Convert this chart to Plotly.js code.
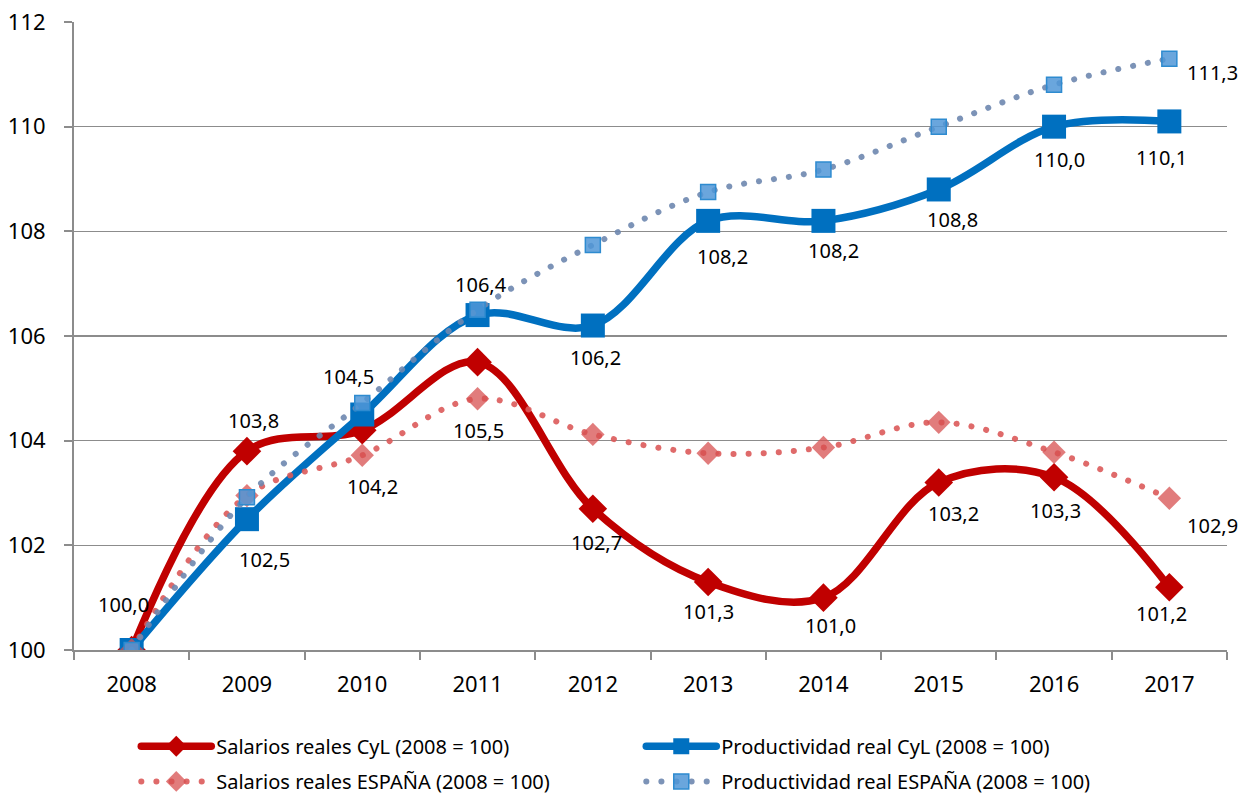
<!DOCTYPE html>
<html>
<head>
<meta charset="utf-8">
<script src="https://cdn.plot.ly/plotly-3.0.1.min.js"></script>
<style>
html,body{margin:0;padding:0;background:#fff;}
#chart{width:1251px;height:799px;}
.js-line{stroke-linecap:round;}
</style>
</head>
<body>
<div id="chart"></div>
<script>
// ---- data ----
const years = ['2008','2009','2010','2011','2012','2013','2014','2015','2016','2017'];
const salariosCyL = [100.0, 103.8, 104.2, 105.5, 102.7, 101.3, 101.0, 103.2, 103.3, 101.2];
const productividadCyL = [100.0, 102.5, 104.5, 106.4, 106.2, 108.2, 108.2, 108.8, 110.0, 110.1];
const salariosES = [100.0, 102.95, 103.72, 104.8, 104.12, 103.76, 103.87, 104.35, 103.78, 102.9];
const productividadES = [100.0, 102.92, 104.72, 106.5, 107.74, 108.75, 109.18, 110.0, 110.8, 111.3];
const seriesNames = [
  'Salarios reales CyL (2008 = 100)',
  'Productividad real CyL (2008 = 100)',
  'Salarios reales ESPAÑA (2008 = 100)',
  'Productividad real ESPAÑA (2008 = 100)'
];
const yTicks = [100, 102, 104, 106, 108, 110, 112];

// label offsets (px) for data labels
const salCyLOffsets = [[-8,-46],[7,-31],[10,56],[1,68],[4,34],[0,30],[7,28],[15,31],[1,33],[-8,26]];
const prodCyLOffsets = [null,[18,40],[-14,-38],[3,-31],[3,32],[14,36],[10,30],[14,30],[5,33],[-8,36]];
const salESOffsets = [null,null,null,null,null,null,null,null,null,[43,27]];
const prodESOffsets = [null,null,null,null,null,null,null,null,null,[43,14]];

const FONT = 'Noto Sans, Open Sans, sans-serif';
const fmt = v => v.toFixed(1).replace('.', ',');

const traces = [
  {
    x: years, y: salariosCyL, name: seriesNames[0], type: 'scatter', mode: 'lines+markers',
    line: {color: '#c00000', width: 7.5, shape: 'spline', smoothing: 1},
    marker: {symbol: 'diamond', size: 22, color: '#c00000'},
    legend: 'legend'
  },
  {
    x: years, y: productividadCyL, name: seriesNames[1], type: 'scatter', mode: 'lines+markers',
    line: {color: '#0070c0', width: 7.5, shape: 'spline', smoothing: 1},
    marker: {symbol: 'square', size: 24, color: '#0070c0'},
    legend: 'legend'
  },
  {
    x: years, y: salariosES, name: seriesNames[2], type: 'scatter', mode: 'lines+markers',
    line: {color: 'rgba(220,90,90,0.9)', width: 6, shape: 'spline', smoothing: 1, dash: '0.1px,15px'},
    marker: {symbol: 'diamond', size: 18, color: 'rgba(215,80,80,0.75)'},
    legend: 'legend2'
  },
  {
    x: years, y: productividadES, name: seriesNames[3], type: 'scatter', mode: 'lines+markers',
    line: {color: 'rgba(110,135,175,0.9)', width: 6, shape: 'spline', smoothing: 1, dash: '0.1px,15px'},
    marker: {symbol: 'square', size: 15, color: 'rgba(80,150,215,0.85)', line: {color: '#2e8bd0', width: 1.5}},
    legend: 'legend2'
  }
];

const annotations = [];
function addLabels(vals, offs) {
  vals.forEach((v, i) => {
    const o = offs[i];
    if (!o) return;
    annotations.push({
      x: i, y: v, xref: 'x', yref: 'y', text: fmt(v), showarrow: false,
      xshift: o[0], yshift: -o[1], font: {family: FONT, size: 20, color: '#000'}
    });
  });
}
addLabels(salariosCyL, salCyLOffsets);
addLabels(productividadCyL, prodCyLOffsets);
addLabels(salariosES, salESOffsets);
addLabels(productividadES, prodESOffsets);

const legendCommon = {
  orientation: 'h', x: 0.054, xanchor: 'left', yref: 'container', yanchor: 'middle',
  entrywidth: 420, itemwidth: 70, font: {family: FONT, size: 20, color: '#000'},
  bgcolor: 'rgba(0,0,0,0)', traceorder: 'normal'
};

const layout = {
  width: 1251, height: 799,
  margin: {l: 74, r: 24, t: 22, b: 149},
  paper_bgcolor: '#fff', plot_bgcolor: '#fff',
  font: {family: FONT, color: '#000'},
  showlegend: true,
  hovermode: false,
  xaxis: {
    type: 'category', range: [-0.5, 9.5],
    showgrid: false, showline: true, linecolor: '#8c8c8c', linewidth: 2,
    ticks: 'outside', tickson: 'boundaries', ticklen: 8, tickcolor: '#8c8c8c', tickwidth: 2,
    ticklabelstandoff: 14,
    tickfont: {family: FONT, size: 22, color: '#000'}, zeroline: false
  },
  yaxis: {
    range: [100, 112], tickvals: yTicks, ticktext: yTicks.map(String),
    showgrid: true, gridcolor: '#8c8c8c', gridwidth: 1.5,
    showline: true, linecolor: '#8c8c8c', linewidth: 2,
    ticks: 'outside', ticklen: 8, tickcolor: '#8c8c8c', tickwidth: 2,
    ticklabelstandoff: 14,
    tickfont: {family: FONT, size: 22, color: '#000'}, zeroline: false
  },
  legend: Object.assign({}, legendCommon, {y: 0.066}),
  legend2: Object.assign({}, legendCommon, {y: 0.022}),
  annotations: annotations
};

Plotly.newPlot('chart', traces, layout, {displayModeBar: false, staticPlot: true});
</script>
</body>
</html>
